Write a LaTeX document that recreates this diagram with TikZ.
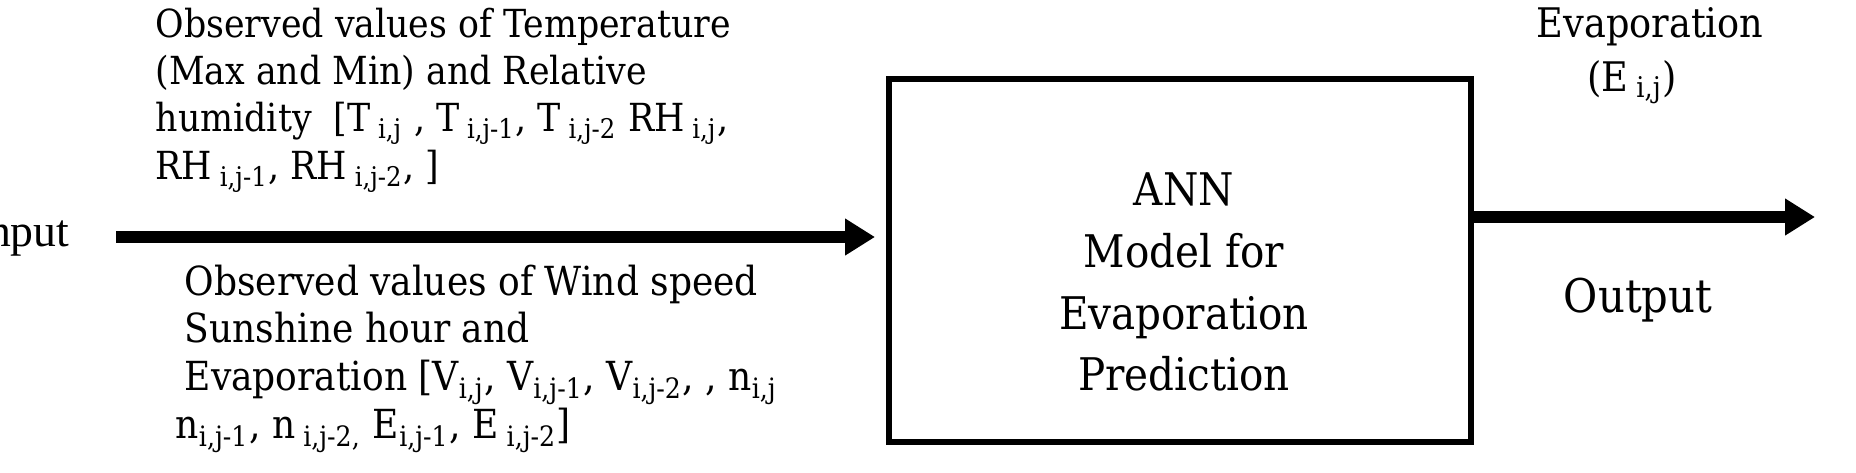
\documentclass[tikz,border=0pt]{standalone}
\usepackage{fontspec}
\setmainfont{DejaVu Serif Condensed}
\newfontfamily\inpfont{Liberation Serif}
\usetikzlibrary{arrows.meta}

\begin{document}
\begin{tikzpicture}[
  txt/.style = {align=left, inner sep=0pt, font=\fontsize{11}{13.5}\selectfont},
  big/.style = {inner sep=0pt, font=\fontsize{12.8}{17.6}\selectfont},
  fat/.style = {line width=1.2mm, -{Triangle[length=3mm,width=3.5mm]}}
]
\useasboundingbox (0,0) rectangle (18.56,4.72);

\node (ann) at (11.80,2.12) [draw, line width=0.6mm, minimum width=5.82cm, minimum height=3.63cm]{};
\node (annlab) at (11.84,1.90) [big, align=center]{ANN\\ Model for\\Evaporation\\Prediction};

\node (inp) at (0.70,2.36) [anchor=east, inner sep=0pt, font=\inpfont\fontsize{13}{15}\selectfont]{Input};
\coordinate (inend) at (8.75,2.35);
\draw[fat, shorten <=4.6mm] (inp.east |- inend) -- (inend);

\coordinate (outend) at (18.15,2.55);
\draw[fat] (ann.east |- outend) -- (outend);

\node (evap) at (16.50,4.45) [txt, font=\fontsize{11.6}{14}\selectfont]{Evaporation};
\node (eij) at (16.32,3.90) [txt, font=\fontsize{11.6}{14}\selectfont]{(E\textsubscript{ i,j})};
\node (outlab) at (16.38,1.72) [big, font=\fontsize{13.2}{16}\selectfont]{Output};

% inputs above and below the arrow
\node (tin) at (1.55,4.65) [txt, anchor=north west]{Observed values of Temperature\\
(Max and Min) and Relative\\
humidity\ \ [T\textsubscript{ i,j} , T\textsubscript{ i,j-1}, T\textsubscript{ i,j-2} RH\textsubscript{ i,j},\\
RH\textsubscript{ i,j-1}, RH\textsubscript{ i,j-2}, ]};

\node (bin) at (1.84,2.08) [txt, anchor=north west, font=\fontsize{11.4}{13.6}\selectfont]{Observed values of Wind speed\\
Sunshine hour and\\
Evaporation [V\textsubscript{i,j}, V\textsubscript{i,j-1}, V\textsubscript{i,j-2}, , n\textsubscript{i,j}\\
\hspace*{-0.9mm}n\textsubscript{i,j-1}, n\textsubscript{ i,j-2,} E\textsubscript{i,j-1}, E\textsubscript{ i,j-2}]};

\end{tikzpicture}
\end{document}
